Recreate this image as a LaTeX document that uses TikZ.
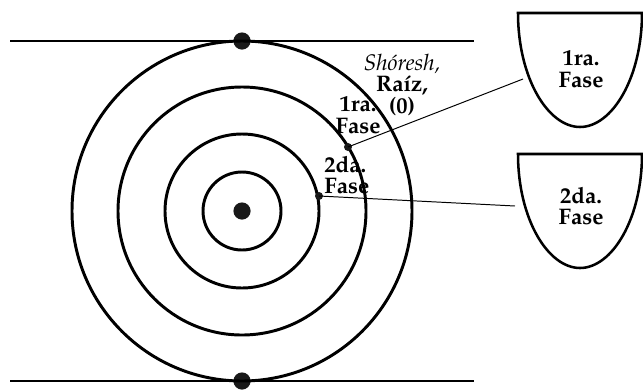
\documentclass[tikz,border=0pt]{standalone}
\usepackage[T1]{fontenc}
\usepackage{mathpazo}
\usepackage{tikz}

\begin{document}
\begin{tikzpicture}[x=0.025cm, y=-0.025cm,
  ring/.style={line width=2.1pt},
  rail/.style={line width=1.1pt},
  link/.style={line width=0.7pt},
  cup/.style={line width=1.8pt},
  bigdot/.style={circle,fill=black!90,inner sep=0pt,minimum size=0.43cm},
  smalldot/.style={circle,fill=black!90,inner sep=0pt,minimum size=0.2cm},
  lbl/.style={font=\bfseries\fontsize{16}{15.5}\selectfont,align=center,inner sep=0pt}]

\useasboundingbox (0,0) rectangle (643,389);

% Rails
\node[bigdot] (ptop) at (242,41) {};
\node[bigdot] (pbot) at (242,381) {};
\coordinate (topL) at (10,41);
\coordinate (topR) at (474,41);
\coordinate (botL) at (10,381);
\coordinate (botR) at (474,381);
\draw[rail] (topL) -- (topR);
\draw[rail] (botL) -- (botR);

% Circles
\node[bigdot] (core) at (242,211) {};
\draw[ring] (core.center) circle [radius=39];
\draw[ring] (core.center) circle [radius=77];
\draw[ring] (core.center) circle [radius=124];
\draw[ring] (core.center) circle [radius=170];

% Points on the circles
\node[smalldot] (fase1) at (348,147) {};
\node[smalldot] (fase2) at (319,196) {};

% Labels
\node[lbl] (root) at (402,85) {\textit{\mdseries Sh\'oresh,}\\Ra\'{\i}z,\\(0)};
\node[lbl] (lab1) at (358,115) {1ra.\\Fase};
\node[lbl,align=left,anchor=west] (lab2) at (324,175) {2da.\\Fase};

% Cups
\draw[cup] (518,13) -- (642,13) .. controls (642,78) and (612,127) .. (580,127)
  .. controls (548,127) and (518,78) .. cycle;
\node[lbl] (cupA) at (581,69) {1ra.\\Fase};
\draw[cup] (518,154) -- (642,154) .. controls (642,219) and (612,268) .. (580,268)
  .. controls (548,268) and (518,219) .. cycle;
\node[lbl] (cupB) at (581,206) {2da.\\Fase};

% Connectors
\coordinate (cupA-in) at (523,79);
\coordinate (cupB-in) at (515,206);
\draw[link] (fase1.center) -- (cupA-in);
\draw[link] (fase2.center) -- (cupB-in);

\end{tikzpicture}
\end{document}
